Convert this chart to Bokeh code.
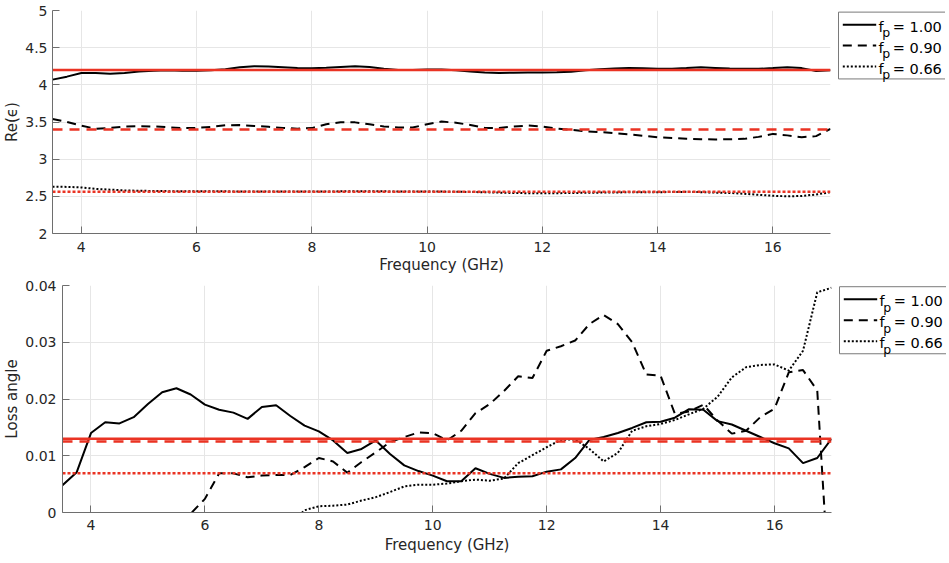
from bokeh.plotting import figure
from bokeh.layouts import column, row
from bokeh.models import Range1d, FixedTicker
from bokeh.embed import file_html
from bokeh.resources import INLINE
from bokeh.core.properties import value

nan = float("nan")

# ---------------- data ----------------
freq_ghz = [3.5, 3.75, 4.0, 4.25, 4.5, 4.75, 5.0, 5.25, 5.5, 5.75,
            6.0, 6.25, 6.5, 6.75, 7.0, 7.25, 7.5, 7.75, 8.0, 8.25,
            8.5, 8.75, 9.0, 9.25, 9.5, 9.75, 10.0, 10.25, 10.5, 10.75,
            11.0, 11.25, 11.5, 11.75, 12.0, 12.25, 12.5, 12.75, 13.0, 13.25,
            13.5, 13.75, 14.0, 14.25, 14.5, 14.75, 15.0, 15.25, 15.5, 15.75,
            16.0, 16.25, 16.5, 16.75, 17.0]

re_eps_fp100 = [4.07, 4.11, 4.16, 4.16, 4.15, 4.16, 4.18, 4.19, 4.195, 4.19,
                4.19, 4.195, 4.21, 4.235, 4.25, 4.245, 4.237, 4.228, 4.224, 4.23,
                4.24, 4.25, 4.24, 4.215, 4.20, 4.20, 4.205, 4.205, 4.195, 4.18,
                4.165, 4.16, 4.163, 4.165, 4.165, 4.168, 4.175, 4.195, 4.21, 4.22,
                4.226, 4.222, 4.218, 4.217, 4.225, 4.235, 4.228, 4.22, 4.215, 4.215,
                4.225, 4.237, 4.225, 4.185, 4.197]

re_eps_fp090 = [3.54, 3.50, 3.45, 3.41, 3.42, 3.44, 3.445, 3.44, 3.43, 3.418,
                3.42, 3.435, 3.455, 3.458, 3.447, 3.435, 3.42, 3.41, 3.418, 3.47,
                3.497, 3.495, 3.47, 3.44, 3.425, 3.425, 3.47, 3.506, 3.49, 3.46,
                3.42, 3.42, 3.44, 3.452, 3.44, 3.41, 3.394, 3.375, 3.365, 3.35,
                3.335, 3.315, 3.295, 3.285, 3.275, 3.268, 3.265, 3.268, 3.273, 3.30,
                3.34, 3.32, 3.295, 3.31, 3.408]

re_eps_fp066 = [2.63, 2.627, 2.62, 2.60, 2.59, 2.58, 2.575, 2.572, 2.57, 2.57,
                2.57, 2.568, 2.567, 2.566, 2.565, 2.565, 2.565, 2.565, 2.565, 2.566,
                2.567, 2.568, 2.568, 2.567, 2.566, 2.565, 2.565, 2.564, 2.562, 2.558,
                2.555, 2.55, 2.545, 2.542, 2.54, 2.542, 2.545, 2.548, 2.55, 2.552,
                2.555, 2.555, 2.555, 2.558, 2.56, 2.556, 2.55, 2.545, 2.535, 2.52,
                2.508, 2.50, 2.505, 2.525, 2.555]

loss_fp100 = [0.0048, 0.0071, 0.0140, 0.0159, 0.0157, 0.0168, 0.0191, 0.0212, 0.0219, 0.0208,
              0.0190, 0.0181, 0.0176, 0.0165, 0.0186, 0.0189, 0.0170, 0.0153, 0.0143, 0.0127,
              0.0105, 0.0112, 0.0127, 0.0103, 0.0083, 0.0073, 0.0065, 0.0055, 0.0055, 0.0078,
              0.0068, 0.0061, 0.0063, 0.0064, 0.0072, 0.0076, 0.0096, 0.0128, 0.0133, 0.0140,
              0.0149, 0.0159, 0.0160, 0.0167, 0.0182, 0.0181, 0.0161, 0.0155, 0.0144, 0.0133,
              0.0122, 0.0113, 0.0087, 0.0096, 0.0130]

loss_fp090 = [nan, nan, nan, nan, nan, nan, nan, nan, -0.0045, -0.0002,
              0.0024, 0.0069, 0.0069, 0.0062, 0.0065, 0.0066, 0.0066, 0.0080, 0.0096, 0.0090,
              0.0070, 0.0089, 0.0106, 0.0124, 0.0133, 0.0141, 0.0140, 0.0127, 0.0144, 0.0175,
              0.0191, 0.0214, 0.0240, 0.0237, 0.0285, 0.0293, 0.0303, 0.0332, 0.0348, 0.0332,
              0.0300, 0.0243, 0.0241, 0.0174, 0.0178, 0.0190, 0.0162, 0.0139, 0.0144, 0.0168,
              0.0183, 0.0247, 0.0251, 0.0215, -0.0200]

loss_fp066 = [nan, nan, nan, nan, nan, nan, nan, nan, nan, nan,
              nan, nan, nan, nan, nan, nan, -0.0020, 0.0004, 0.0011, 0.0012,
              0.0014, 0.0021, 0.0027, 0.0036, 0.0046, 0.0049, 0.0049, 0.0051, 0.0055, 0.0058,
              0.0056, 0.0060, 0.0087, 0.0101, 0.0115, 0.0128, 0.0129, 0.0112, 0.0090, 0.0105,
              0.0144, 0.0152, 0.0156, 0.0163, 0.0173, 0.0183, 0.0204, 0.0238, 0.0256, 0.0260,
              0.0261, 0.0250, 0.0285, 0.0388, 0.0396]

fit_re_eps = [4.20, 3.40, 2.56]        # fp = 1.00, 0.90, 0.66
fit_loss = [0.0130, 0.0125, 0.0069]

legend_values = ["1.00", "0.90", "0.66"]

x_ticks = [4, 6, 8, 10, 12, 14, 16]
x_tick_labels = ["4", "6", "8", "10", "12", "14", "16"]
re_ticks = [2, 2.5, 3, 3.5, 4, 4.5, 5]
re_tick_labels = ["2", "2.5", "3", "3.5", "4", "4.5", "5"]
loss_ticks = [0, 0.01, 0.02, 0.03, 0.04]
loss_tick_labels = ["0", "0.01", "0.02", "0.03", "0.04"]

# ---------------- style ----------------
FONT = "DejaVu Sans"
BLACK = "#000000"
RED = "#ea3323"
AXIS = "#6e6e6e"
GRID = "#e6e6e6"
TXT = "#262626"
black_dash = ["solid", "9 6", "2 2"]
red_dash = ["solid", "10 7", "3 2"]


def make_panel(frame_w, frame_h, b_left, b_top, b_bottom, y_start, y_end,
               y_ticks, y_labels, y_title, series, fits,
               x_std, x_lab_std, y_std, y_lab_std):
    p = figure(frame_width=frame_w, frame_height=frame_h, title=None,
               x_range=Range1d(freq_ghz[0], freq_ghz[-1]),
               y_range=Range1d(y_start, y_end),
               output_backend="svg", toolbar_location=None,
               min_border_left=b_left, min_border_right=5,
               min_border_top=b_top, min_border_bottom=b_bottom)
    p.outline_line_color = None
    p.xaxis.ticker = FixedTicker(ticks=x_ticks)
    p.xaxis.major_label_overrides = dict(zip(x_ticks, x_tick_labels))
    p.yaxis.ticker = FixedTicker(ticks=y_ticks)
    p.yaxis.major_label_overrides = dict(zip(y_ticks, y_labels))
    for ax in (p.xaxis[0], p.yaxis[0]):
        ax.major_tick_in = 7
        ax.major_tick_out = 0
        ax.minor_tick_line_color = None
        ax.axis_line_color = AXIS
        ax.major_tick_line_color = AXIS
        ax.major_label_text_font = FONT
        ax.major_label_text_font_size = "14px"
        ax.major_label_text_color = TXT
        ax.axis_label_text_font = FONT
        ax.axis_label_text_font_size = "15px"
        ax.axis_label_text_font_style = "normal"
        ax.axis_label_text_color = TXT
    p.xaxis.axis_label = "Frequency (GHz)"
    p.xaxis.major_label_standoff = x_std
    p.xaxis.axis_label_standoff = x_lab_std
    p.yaxis.axis_label = y_title
    p.yaxis.major_label_standoff = y_std
    p.yaxis.axis_label_standoff = y_lab_std
    p.grid.grid_line_color = GRID
    p.grid.grid_line_width = 1
    for vals, dash in zip(series, black_dash):
        p.line(freq_ghz, vals, line_color=BLACK, line_width=2, line_dash=dash)
    for v, dash in zip(fits, red_dash):
        p.line([freq_ghz[0], freq_ghz[-1]], [v, v], line_color=RED,
               line_width=2.5, line_dash=dash)
    return p


def make_legend(height, box_top):
    lg = figure(width=110, height=height, title=None, x_range=Range1d(0, 110),
                y_range=Range1d(height, 0), output_backend="svg",
                toolbar_location=None, x_axis_location=None,
                y_axis_location=None, min_border=0, min_border_left=0,
                min_border_right=0, min_border_top=0, min_border_bottom=0)
    lg.outline_line_color = None
    lg.xgrid.visible = False
    lg.ygrid.visible = False
    lg.quad(left=3.0, right=140, top=box_top, bottom=box_top + 82.7,
            fill_color="white", line_color="#7a7a7a", line_width=1)
    for i, (lab, dash) in enumerate(zip(legend_values, black_dash)):
        yl = box_top + 15.5 + 25.9 * i
        lg.line([7.3, 40.7], [yl, yl], line_color=BLACK, line_width=2, line_dash=dash)
        lg.text(x=[43.0], y=[yl + 2.7], text=["f"], text_font=value(FONT),
                text_font_size="14.5px", text_baseline="alphabetic", text_color=BLACK)
        lg.text(x=[46.8], y=[yl + 10.0], text=["p"], text_font=value(FONT),
                text_font_size="12.5px", text_baseline="alphabetic", text_color=BLACK)
        lg.text(x=[57.3], y=[yl + 2.7], text=["= " + lab], text_font=value(FONT),
                text_font_size="14.5px", text_baseline="alphabetic", text_color=BLACK)
    return lg


# top panel: page y 0..276, frame 10..233 ; bottom panel: 276..556, frame 285..512
top = make_panel(778, 223, 47, 10, 43, 2, 5, re_ticks, re_tick_labels, "Re(ϵ)",
                 [re_eps_fp100, re_eps_fp090, re_eps_fp066], fit_re_eps,
                 8, 1, 5, 1)
bot = make_panel(769, 227, 56, 9, 44, 0, 0.04, loss_ticks, loss_tick_labels, "Loss angle",
                 [loss_fp100, loss_fp090, loss_fp066], fit_loss,
                 7, 3, 6, 1)

top_leg = make_legend(276, 2.0)
bot_leg = make_legend(280, 1.5)

layout = column(row(top, top_leg), row(bot, bot_leg))

open("out.html", "w").write(file_html(layout, INLINE))
